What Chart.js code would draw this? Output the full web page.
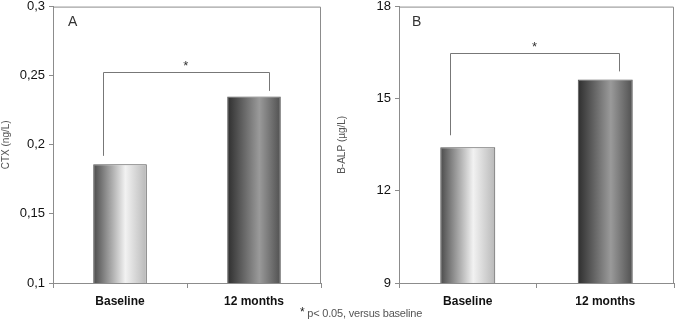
<!DOCTYPE html>
<html>
<head>
<meta charset="utf-8">
<script src="https://cdn.jsdelivr.net/npm/chart.js@4"></script>
<style>
  html, body { margin: 0; padding: 0; background: #fff; }
  #wrap { position: relative; width: 676px; height: 325px; }
  #cA { position: absolute; left: 0; top: 0; }
  #cB { position: absolute; left: 336px; top: 0; }
  #note { position: absolute; left: 300px; top: 305px; font: 11px "Liberation Sans", Arial, sans-serif; color: #555; letter-spacing: -0.2px; }
  #note sup { font-size: 12px; vertical-align: 1px; color: #222; }
</style>
</head>
<body>
<div id="wrap">
  <canvas id="cA" width="336" height="325"></canvas>
  <canvas id="cB" width="340" height="325"></canvas>
  <div id="note"><sup>*</sup> p&lt; 0.05, versus baseline</div>
</div>
<script>
const categories = ['Baseline', '12 months'];

// panel A: CTX
const ctxValues = [0.186, 0.235];
const ctxTicks = [0.1, 0.15, 0.2, 0.25, 0.3];
// bracket: [height, left end, right end]
const ctxBracket = [0.253, 0.192, 0.239];

// panel B: B-ALP
const alpValues = [13.42, 15.63];
const alpTicks = [9, 12, 15, 18];
const alpBracket = [16.5, 13.81, 15.89];

const FONT = '"Liberation Sans", Arial, sans-serif';
const TXT = '#333';
const AXIS = '#8c8c8c';

// bar gradients: [left, highlight, right]
const barShades = [
  ['#4a4a4a', '#f2f2f2', '#b8b8b8'],
  ['#2e2e2e', '#9a9a9a', '#505050']
];

function barFill(c) {
  const chart = c.chart;
  if (!chart.chartArea) return '#888';
  const xs = chart.scales.x;
  const cx = xs.getPixelForValue(c.dataIndex);
  const w = (xs.width / categories.length) * 0.4;
  const g = chart.ctx.createLinearGradient(cx - w / 2, 0, cx + w / 2, 0);
  const s = barShades[c.dataIndex];
  g.addColorStop(0, s[0]);
  g.addColorStop(0.6, s[1]);
  g.addColorStop(1, s[2]);
  return g;
}

const panelDeco = {
  id: 'panelDeco',
  afterDraw(chart, args, o) {
    const { ctx, chartArea: a, scales: { x, y } } = chart;
    ctx.save();
    // frame top + right
    ctx.strokeStyle = AXIS;
    ctx.lineWidth = 1;
    ctx.beginPath();
    ctx.moveTo(a.left, a.top + 0.5);
    ctx.lineTo(a.right - 0.5, a.top + 0.5);
    ctx.lineTo(a.right - 0.5, a.bottom);
    ctx.stroke();
    // significance bracket
    const xl = x.getPixelForValue(0 - o.offL);
    const xr = x.getPixelForValue(1 + o.offR);
    const yt = Math.round(y.getPixelForValue(o.bracket[0])) + 0.5;
    ctx.strokeStyle = '#777';
    ctx.beginPath();
    ctx.moveTo(Math.round(xl) + 0.5, y.getPixelForValue(o.bracket[1]));
    ctx.lineTo(Math.round(xl) + 0.5, yt);
    ctx.lineTo(Math.round(xr) + 0.5, yt);
    ctx.lineTo(Math.round(xr) + 0.5, y.getPixelForValue(o.bracket[2]));
    ctx.stroke();
    ctx.fillStyle = TXT;
    ctx.font = '13px ' + FONT;
    ctx.textAlign = 'center';
    ctx.textBaseline = 'middle';
    ctx.fillText('*', (xl + xr) / 2, yt - 6);
    // panel letter
    ctx.font = '14px ' + FONT;
    ctx.textAlign = 'left';
    ctx.fillText(o.letter, a.left + o.letterDx, a.top + 16);
    ctx.restore();
  }
};

function makeChart(id, values, ticks, bracket, title, letter, yWidth, padRight, offs) {
  const fmt = v => String(+v.toFixed(2)).replace('.', ',');
  return new Chart(document.getElementById(id), {
    type: 'bar',
    data: {
      labels: categories,
      datasets: [{
        data: values,
        backgroundColor: barFill,
        borderColor: '#555',
        borderWidth: 1,
        categoryPercentage: 1,
        barPercentage: 0.4
      }]
    },
    options: {
      responsive: false,
      animation: false,
      layout: { padding: { top: 0, right: padRight, left: 0, bottom: 0 } },
      plugins: {
        legend: { display: false },
        tooltip: { enabled: false },
        panelDeco: { bracket, letter, letterDx: letter === 'A' ? 15 : 13, offL: offs[0], offR: offs[1] }
      },
      scales: {
        x: {
          offset: true,
          grid: { offset: true, drawOnChartArea: false, drawTicks: true, tickLength: 5, color: AXIS },
          border: { color: AXIS },
          ticks: { color: '#111', font: { family: FONT, size: 12, weight: 'bold' }, padding: 6 },
          afterFit: s => { s.height = 42; }
        },
        y: {
          min: ticks[0],
          max: ticks[ticks.length - 1],
          afterBuildTicks: s => { s.ticks = ticks.map(v => ({ value: v })); },
          grid: { drawOnChartArea: false, drawTicks: true, tickLength: 4, color: AXIS },
          border: { color: AXIS },
          ticks: { color: '#111', font: { family: FONT, size: 13, lineHeight: 0.4 }, padding: 4, callback: v => fmt(v) },
          title: { display: true, text: title, color: '#555', font: { family: FONT, size: 10 }, padding: 0 },
          afterFit: s => { s.width = yWidth; }
        }
      }
    },
    plugins: [panelDeco]
  });
}

makeChart('cA', ctxValues, ctxTicks, ctxBracket, 'CTX (ng/L)', 'A', 53, 15, [0.13, 0.11]);
makeChart('cB', alpValues, alpTicks, alpBracket, 'B-ALP (\u00b5g/L)', 'B', 63, 2, [0.13, 0.10]);
</script>
</body>
</html>
